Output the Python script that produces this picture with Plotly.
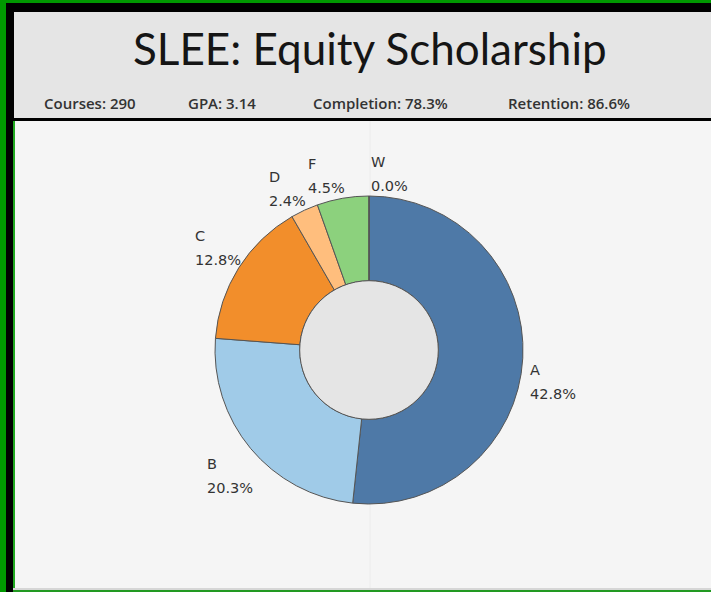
import math
import plotly.graph_objects as go

# ---- data ----
title_text = "SLEE: Equity Scholarship"
kpi_labels = ["Courses: 290", "GPA: 3.14", "Completion: 78.3%", "Retention: 86.6%"]
grades = ["A", "B", "C", "D", "F", "W"]
grade_share = [42.8, 20.3, 12.8, 2.4, 4.5, 0.0]
grade_colors = ["#4e79a7", "#a0cbe8", "#f28e2b", "#ffbe7d", "#8cd17d", "#86bcb6"]

# ---- layout geometry (pixels) ----
W, H = 711, 592
cx, cy, R = 369, 350, 154
hole_frac = 0.45
kpi_x = [42, 186, 311, 506]


def px(x):
    return x / W


def py(y):
    return 1 - y / H


fig = go.Figure()
fig.add_trace(go.Pie(
    labels=grades,
    values=grade_share,
    sort=False,
    direction="clockwise",
    rotation=0,
    hole=hole_frac,
    marker=dict(colors=grade_colors, line=dict(color="#555555", width=1)),
    textinfo="none",
    hoverinfo="label+value",
    showlegend=False,
    domain=dict(x=[px(cx - R), px(cx + R)], y=[py(cy + R), py(cy - R)]),
))

shapes = [
    # green outer frame
    dict(type="rect", xref="paper", yref="paper", x0=0, x1=px(6), y0=0, y1=1,
         fillcolor="#009900", line_width=0, layer="below"),
    dict(type="rect", xref="paper", yref="paper", x0=0, x1=1, y0=py(3), y1=1,
         fillcolor="#009900", line_width=0, layer="below"),
    # header band
    dict(type="rect", xref="paper", yref="paper", x0=px(14), x1=1, y0=py(118), y1=py(12),
         fillcolor="#e5e5e5", line_width=0, layer="below"),
    # body
    dict(type="rect", xref="paper", yref="paper", x0=px(13), x1=1, y0=py(592), y1=py(121),
         fillcolor="#f5f5f5", line_width=0, layer="below"),
    dict(type="rect", xref="paper", yref="paper", x0=px(13), x1=px(15), y0=py(590), y1=py(121),
         fillcolor="#22aa22", line_width=0, layer="below"),
    dict(type="rect", xref="paper", yref="paper", x0=px(13), x1=1, y0=py(590), y1=py(588),
         fillcolor="#d6d6d6", line_width=0, layer="below"),
    dict(type="rect", xref="paper", yref="paper", x0=px(13), x1=1, y0=0, y1=py(590),
         fillcolor="#229922", line_width=0, layer="below"),
    # faint divider
    dict(type="line", xref="paper", yref="paper", x0=px(370), x1=px(370), y0=py(588), y1=py(121),
         line=dict(color="#ececec", width=1), layer="below"),
    # donut hole
    dict(type="circle", xref="paper", yref="paper",
         x0=px(cx - R * hole_frac), x1=px(cx + R * hole_frac),
         y0=py(cy + R * hole_frac), y1=py(cy - R * hole_frac),
         fillcolor="#e5e5e5", line=dict(color="#555555", width=1), layer="above"),
]

annotations = [
    dict(text=title_text, x=px(369.5), y=py(48), xref="paper", yref="paper",
         xanchor="center", yanchor="middle", showarrow=False,
         font=dict(family="Lato", size=44, color="#151515")),
]
for lab, xx in zip(kpi_labels, kpi_x):
    annotations.append(dict(text=lab, x=px(xx), y=py(103), xref="paper", yref="paper",
                            xanchor="left", yanchor="middle", showarrow=False,
                            font=dict(family="Open Sans", size=15, color="#333333", weight=600)))

total = sum(grade_share)
cum = 0.0
for g, s in zip(grades, grade_share):
    mid = (cum + s / 2) / total * 2 * math.pi
    cum += s
    sx = round(math.sin(mid), 9)
    cz = round(math.cos(mid), 9)
    right = sx >= 0
    upper = cz > 0
    ex = cx + (R + 5) * sx if right else cx + R * sx + 4
    ey = cy - (R + 5) * cz + (5 if upper else 2)
    annotations.append(dict(
        text=f"<span style='font-size:14.5px'>{g}</span><br><span style='font-size:14.5px'>{s:.1f}%</span>",
        x=px(ex), y=py(ey), xref="paper", yref="paper",
        xanchor="left" if right else "right",
        yanchor="bottom" if upper else "top",
        align="left", showarrow=False,
        font=dict(family="DejaVu Sans", size=18.5, color="#333333"),
    ))

fig.update_layout(
    width=W, height=H,
    margin=dict(l=0, r=0, t=0, b=0),
    paper_bgcolor="#000000",
    plot_bgcolor="#f5f5f5",
    shapes=shapes,
    annotations=annotations,
    showlegend=False,
)

fig.write_html("out.html",
               config={"displayModeBar": False},
               post_script="document.body.style.margin='0';document.body.style.overflow='hidden';")
